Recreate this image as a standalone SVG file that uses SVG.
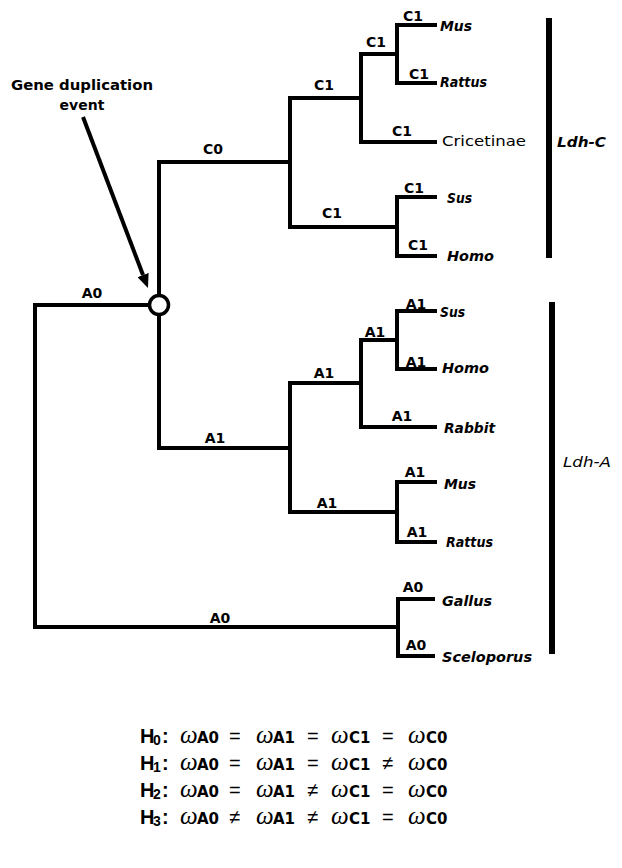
<svg xmlns="http://www.w3.org/2000/svg" width="622" height="868" viewBox="0 0 622 868">
<style>
  .br{fill:none;stroke:#000;stroke-width:4;stroke-linecap:square;stroke-linejoin:miter}
  .bar{stroke:#000;stroke-width:6}
  .lb{font-family:"DejaVu Sans",sans-serif;font-weight:bold;font-size:14px;text-anchor:middle;fill:#000}
  .sp{font-family:"DejaVu Sans",sans-serif;font-weight:bold;font-style:italic;font-size:14px;fill:#000}
  .rg{font-family:"DejaVu Sans",sans-serif;font-size:14px;fill:#000}
  .ann{font-family:"DejaVu Sans",sans-serif;font-weight:bold;font-size:14px;fill:#000}
  .eq{font-family:"Liberation Sans",sans-serif;font-size:20px}
  .H{font-family:"Liberation Sans",sans-serif;font-weight:bold;font-size:20px}
  .hs{font-family:"Liberation Sans",sans-serif;font-weight:bold;font-size:14px}
  .w{font-family:"Liberation Serif",serif;font-style:italic;font-size:25px}
  .ws{font-family:"DejaVu Sans",sans-serif;font-weight:bold;font-size:15px}
</style>
<defs>
  <marker id="ah" markerWidth="14" markerHeight="12" refX="0" refY="6" orient="auto" markerUnits="userSpaceOnUse">
    <path d="M0,0 L14,6 L0,12 z" fill="#000"/>
  </marker>
</defs>
<rect width="622" height="868" fill="#fff"/>

<g id="connectors">
  <path class="br" d="M159,305 H35 V627 H398"/>
  <path class="br" d="M433,599 H398 V656 H433"/>
  <path class="br" d="M159,305 V162 H290"/>
  <path class="br" d="M361,98 H290 V227 H397"/>
  <path class="br" d="M435,197 H397 V256 H435"/>
  <path class="br" d="M397,54 H361 V142 H435"/>
  <path class="br" d="M435,25 H397 V83 H435"/>
  <path class="br" d="M159,305 V448 H290"/>
  <path class="br" d="M361,383 H290 V512 H397"/>
  <path class="br" d="M435,482 H397 V542 H435"/>
  <path class="br" d="M397,340 H361 V427 H435"/>
  <path class="br" d="M435,311 H397 V369 H435"/>
  <line x1="83" y1="117" x2="143" y2="275" stroke="#000" stroke-width="4" marker-end="url(#ah)"/>
</g>

<g id="dup-node">
  <circle cx="159" cy="305" r="9.5" fill="#fff" stroke="#000" stroke-width="3.5"/>
</g>

<g id="annotation">
  <text class="ann" x="11" y="90" textLength="142" lengthAdjust="spacingAndGlyphs">Gene duplication</text>
  <text class="ann" x="82" y="110" text-anchor="middle">event</text>
</g>

<g id="branch-labels">
  <text class="lb" x="92" y="298">A0</text>
  <text class="lb" x="213" y="154">C0</text>
  <text class="lb" x="324" y="90">C1</text>
  <text class="lb" x="376" y="47">C1</text>
  <text class="lb" x="413" y="21">C1</text>
  <text class="lb" x="419" y="79">C1</text>
  <text class="lb" x="402" y="136">C1</text>
  <text class="lb" x="332" y="218">C1</text>
  <text class="lb" x="414" y="193">C1</text>
  <text class="lb" x="418" y="250">C1</text>
  <text class="lb" x="215" y="443">A1</text>
  <text class="lb" x="324" y="378">A1</text>
  <text class="lb" x="375" y="337">A1</text>
  <text class="lb" x="416" y="309">A1</text>
  <text class="lb" x="416" y="367">A1</text>
  <text class="lb" x="402" y="421">A1</text>
  <text class="lb" x="327" y="508">A1</text>
  <text class="lb" x="415" y="477">A1</text>
  <text class="lb" x="417" y="537">A1</text>
  <text class="lb" x="220" y="623">A0</text>
  <text class="lb" x="413" y="592">A0</text>
  <text class="lb" x="416" y="650">A0</text>
</g>

<g id="taxa-C">
  <text class="sp" x="440" y="31" textLength="32" lengthAdjust="spacingAndGlyphs">Mus</text>
  <text class="sp" x="440" y="87" textLength="47" lengthAdjust="spacingAndGlyphs">Rattus</text>
  <text class="rg" x="442" y="146" textLength="84" lengthAdjust="spacingAndGlyphs">Cricetinae</text>
  <text class="sp" x="447" y="203" textLength="25" lengthAdjust="spacingAndGlyphs">Sus</text>
  <text class="sp" x="447" y="261" textLength="47" lengthAdjust="spacingAndGlyphs">Homo</text>
</g>

<g id="taxa-A">
  <text class="sp" x="440" y="317" textLength="25" lengthAdjust="spacingAndGlyphs">Sus</text>
  <text class="sp" x="442" y="373" textLength="47" lengthAdjust="spacingAndGlyphs">Homo</text>
  <text class="sp" x="444" y="433" textLength="51" lengthAdjust="spacingAndGlyphs">Rabbit</text>
  <text class="sp" x="444" y="489" textLength="32" lengthAdjust="spacingAndGlyphs">Mus</text>
  <text class="sp" x="446" y="547" textLength="47" lengthAdjust="spacingAndGlyphs">Rattus</text>
  <text class="sp" x="442" y="606" textLength="50" lengthAdjust="spacingAndGlyphs">Gallus</text>
  <text class="sp" x="442" y="662" textLength="90" lengthAdjust="spacingAndGlyphs">Sceloporus</text>
</g>

<g id="ldh-c">
  <line class="bar" x1="549" y1="18" x2="549" y2="258"/>
  <text class="sp" x="557" y="147" textLength="49" lengthAdjust="spacingAndGlyphs">Ldh-C</text>
</g>

<g id="ldh-a">
  <line class="bar" x1="552" y1="302" x2="552" y2="654"/>
  <text class="rg" x="563" y="467" font-style="italic" textLength="48" lengthAdjust="spacingAndGlyphs">Ldh-A</text>
</g>

<g id="hypotheses" fill="#000">
  <text y="743"><tspan class="H" x="140">H</tspan><tspan class="hs" x="153" dy="2">0</tspan><tspan class="H" x="162" dy="-2">:</tspan><tspan class="w" x="180">ω</tspan><tspan class="ws" x="197">A0</tspan><tspan class="eq" x="229">=</tspan><tspan class="w" x="256">ω</tspan><tspan class="ws" x="273">A1</tspan><tspan class="eq" x="307">=</tspan><tspan class="w" x="331">ω</tspan><tspan class="ws" x="349">C1</tspan><tspan class="eq" x="382">=</tspan><tspan class="w" x="408">ω</tspan><tspan class="ws" x="426">C0</tspan></text>
  <text y="770"><tspan class="H" x="140">H</tspan><tspan class="hs" x="153" dy="2">1</tspan><tspan class="H" x="162" dy="-2">:</tspan><tspan class="w" x="180">ω</tspan><tspan class="ws" x="197">A0</tspan><tspan class="eq" x="229">=</tspan><tspan class="w" x="256">ω</tspan><tspan class="ws" x="273">A1</tspan><tspan class="eq" x="307">=</tspan><tspan class="w" x="331">ω</tspan><tspan class="ws" x="349">C1</tspan><tspan class="eq" x="382">≠</tspan><tspan class="w" x="408">ω</tspan><tspan class="ws" x="426">C0</tspan></text>
  <text y="797"><tspan class="H" x="140">H</tspan><tspan class="hs" x="153" dy="2">2</tspan><tspan class="H" x="162" dy="-2">:</tspan><tspan class="w" x="180">ω</tspan><tspan class="ws" x="197">A0</tspan><tspan class="eq" x="229">=</tspan><tspan class="w" x="256">ω</tspan><tspan class="ws" x="273">A1</tspan><tspan class="eq" x="307">≠</tspan><tspan class="w" x="331">ω</tspan><tspan class="ws" x="349">C1</tspan><tspan class="eq" x="382">=</tspan><tspan class="w" x="408">ω</tspan><tspan class="ws" x="426">C0</tspan></text>
  <text y="824"><tspan class="H" x="140">H</tspan><tspan class="hs" x="153" dy="2">3</tspan><tspan class="H" x="162" dy="-2">:</tspan><tspan class="w" x="180">ω</tspan><tspan class="ws" x="197">A0</tspan><tspan class="eq" x="229">≠</tspan><tspan class="w" x="256">ω</tspan><tspan class="ws" x="273">A1</tspan><tspan class="eq" x="307">≠</tspan><tspan class="w" x="331">ω</tspan><tspan class="ws" x="349">C1</tspan><tspan class="eq" x="382">=</tspan><tspan class="w" x="408">ω</tspan><tspan class="ws" x="426">C0</tspan></text>
</g>
</svg>
